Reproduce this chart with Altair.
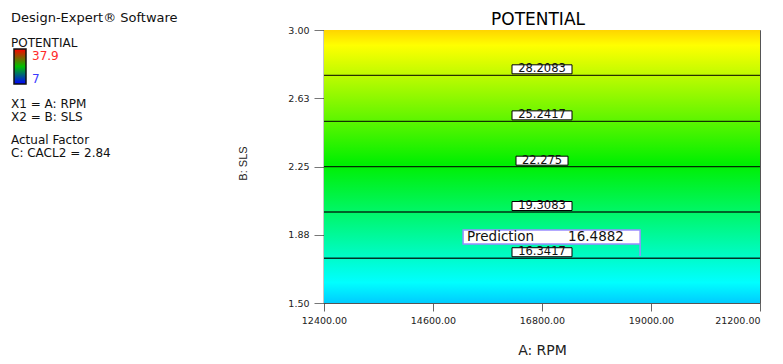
import altair as alt
import pandas as pd

# ---------------- data ----------------
rpm_ticks = [12400, 14600, 16800, 19000, 21200]
sls_ticks = [1.5, 1.875, 2.25, 2.625, 3.0]

contour_levels = ["16.3417", "19.3083", "22.275", "25.2417", "28.2083"]
contour_sls = [1.746, 2.0, 2.249, 2.498, 2.751]
contour_label_rpm = 16800

pred_rpm = 18780
pred_sls = 1.758
pred_name = "Prediction"
pred_value = "16.4882"

chart_title = "POTENTIAL"
x_title = "A: RPM"
y_title = "B: SLS"
legend_header = "Design-Expert® Software"
legend_response = "POTENTIAL"
legend_max = "37.9"
legend_min = "7"
legend_factors = ["X1 = A: RPM", "X2 = B: SLS"]
legend_actual = ["Actual Factor", "C: CACL2 = 2.84"]

# ---------------- layout / style ----------------
W, H = 436, 273
K = (rpm_ticks[-1] - rpm_ticks[0]) / W      # data units per px (x)
J = (sls_ticks[-1] - sls_ticks[0]) / H      # data units per px (y)
FONT = "DejaVu Sans"

plot_gradient = {
    "gradient": "linear", "x1": 0, "y1": 1, "x2": 0, "y2": 0,
    "stops": [
        {"offset": 0.0, "color": "#00ccff"},
        {"offset": 0.075, "color": "#00ffff"},
        {"offset": 0.51, "color": "#00f000"},
        {"offset": 0.944, "color": "#ffff00"},
        {"offset": 1.0, "color": "#ffd400"},
    ],
}
bar_gradient = {
    "gradient": "linear", "x1": 0, "y1": 0, "x2": 0, "y2": 1,
    "stops": [
        {"offset": 0.0, "color": "#ff0000"},
        {"offset": 0.5, "color": "#00c000"},
        {"offset": 1.0, "color": "#0000ff"},
    ],
}

xscale = alt.Scale(domain=[rpm_ticks[0], rpm_ticks[-1]], nice=False, zero=False)
yscale = alt.Scale(domain=[sls_ticks[0], sls_ticks[-1]], nice=False, zero=False)

x_axis = alt.Axis(values=rpm_ticks, format=".2f", grid=False, title=x_title,
                  labelFont=FONT, labelFontSize=9.5, labelColor="#222",
                  labelFlush=False, labelOverlap=False,
                  labelAlign=alt.ExprRef(expr="datum.value == %d ? 'right' : 'center'" % rpm_ticks[-1]),
                  tickSize=8, tickColor="#666", labelPadding=4,
                  domainColor="#555", domainWidth=1,
                  titleFont=FONT, titleFontSize=14, titleFontWeight="normal",
                  titleColor="#222", titleY=47, titleBaseline="middle")
y_axis = alt.Axis(values=sls_ticks, format=".2f", grid=False, title=y_title,
                  labelFont=FONT, labelFontSize=9.5, labelColor="#222",
                  labelFlush=False, labelOverlap=False,
                  tickSize=10, tickColor="#777", labelPadding=5,
                  domainColor="#222", domainWidth=1.5,
                  titleFont="Liberation Sans", titleFontSize=11,
                  titleFontWeight="normal", titleColor="#222",
                  titleAngle=-90, titleX=-81, titleY=133, titleBaseline="middle")

bg_df = pd.DataFrame({"x0": [rpm_ticks[0]], "x1": [rpm_ticks[-1]],
                      "y0": [sls_ticks[0]], "y1": [sls_ticks[-1]]})
background = alt.Chart(bg_df).mark_rect(fill=plot_gradient).encode(
    x=alt.X("x0:Q", scale=xscale, axis=x_axis),
    x2="x1:Q",
    y=alt.Y("y0:Q", scale=yscale, axis=y_axis),
    y2="y1:Q",
)

c_df = pd.DataFrame({"label": contour_levels, "sls": contour_sls,
                     "rpm": [contour_label_rpm] * len(contour_levels)})

contours = alt.Chart(c_df).mark_rule(color="#000", opacity=0.8, strokeWidth=1.3).encode(
    y=alt.Y("sls:Q", scale=yscale)
)

boxes = alt.Chart(c_df).transform_calculate(
    xa=f"datum.rpm - (length(datum.label)*8+4)/2*{K}",
    xb=f"datum.rpm + (length(datum.label)*8+4)/2*{K}",
    ya=f"datum.sls + 1.5*{J}",
    yb=f"datum.sls + 10.5*{J}",
).mark_rect(fill="white", stroke="black", strokeWidth=1).encode(
    x=alt.X("xa:Q", scale=xscale), x2="xb:Q",
    y=alt.Y("ya:Q", scale=yscale), y2="yb:Q",
)

labels = alt.Chart(c_df).mark_text(font=FONT, fontSize=11.5, color="#111",
                                   baseline="middle", align="center", dy=-6).encode(
    x=alt.X("rpm:Q", scale=xscale), y=alt.Y("sls:Q", scale=yscale), text="label:N"
)

p_df = pd.DataFrame({"rpm": [pred_rpm], "sls": [pred_sls],
                     "name": [pred_name], "value": [pred_value]})

pbox = alt.Chart(p_df).transform_calculate(
    xa=f"datum.rpm - 177*{K}",
    ya=f"datum.sls + 12*{J}",
    yb=f"datum.sls + 26*{J}",
).mark_rect(fill="white", stroke="#9a8cff", strokeWidth=1.5).encode(
    x=alt.X("xa:Q", scale=xscale), x2="rpm:Q",
    y=alt.Y("ya:Q", scale=yscale), y2="yb:Q",
)
ptail = alt.Chart(p_df).transform_calculate(
    ya=f"datum.sls + 12*{J}",
).mark_rule(color="#9a8cff", strokeWidth=1.5).encode(
    x=alt.X("rpm:Q", scale=xscale),
    y=alt.Y("ya:Q", scale=yscale), y2="sls:Q",
)
pname = alt.Chart(p_df).mark_text(font=FONT, fontSize=13.5, color="#111",
                                  align="left", baseline="middle", dx=-173, dy=-19).encode(
    x=alt.X("rpm:Q", scale=xscale), y=alt.Y("sls:Q", scale=yscale), text="name:N"
)
pval = alt.Chart(p_df).mark_text(font=FONT, fontSize=13.5, color="#111",
                                 align="left", baseline="middle", dx=-72, dy=-19).encode(
    x=alt.X("rpm:Q", scale=xscale), y=alt.Y("sls:Q", scale=yscale), text="value:N"
)

one = pd.DataFrame({"t": [""]})


def note(text, px, py, size=12, color="#111", align="left", baseline="middle"):
    return alt.Chart(pd.DataFrame({"t": [text]})).mark_text(
        font=FONT, fontSize=size, color=color, align=align, baseline=baseline
    ).encode(x=alt.value(px), y=alt.value(py), text="t:N")


title_mark = note(chart_title, 214, -5, size=17, color="#000", align="center",
                  baseline="alphabetic")

colorbar = alt.Chart(one).mark_rect(fill=bar_gradient, stroke="#111", strokeWidth=1.5).encode(
    x=alt.value(-310), x2=alt.value(-298), y=alt.value(19), y2=alt.value(54)
)

legend_layers = [
    note(legend_header, -313, -12, size=13),
    note(legend_response, -313, 12.5),
    colorbar,
    note(legend_max, -292, 25.5, color="#ff2a2a"),
    note(legend_min, -292, 49, color="#3b3bff"),
    note(legend_factors[0], -313, 74),
    note(legend_factors[1], -313, 86.5),
    note(legend_actual[0], -313, 109.5),
    note(legend_actual[1], -313, 123),
]

chart = alt.layer(
    background, contours, boxes, labels, pbox, ptail, pname, pval, title_mark,
    *legend_layers
).properties(
    width=W, height=H,
    autosize=alt.AutoSizeParams(type="none"),
    padding={"left": 316, "top": 22, "right": 15, "bottom": 53},
).configure_view(stroke="#555", strokeWidth=1)

chart.save("out.html", embed_options={"renderer": "svg", "actions": False})
